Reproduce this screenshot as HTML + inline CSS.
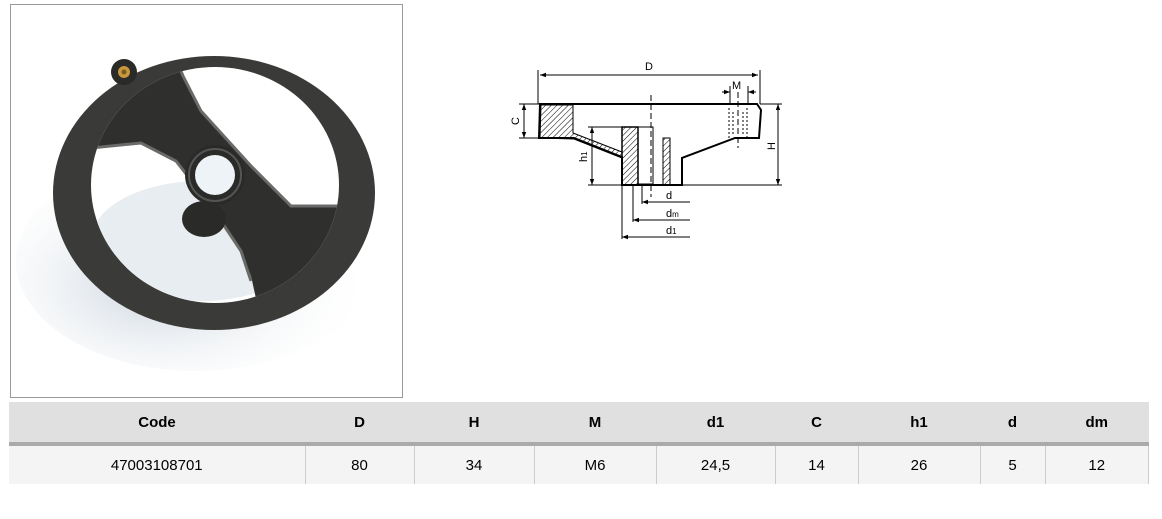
<!DOCTYPE html>
<html><head><meta charset="utf-8"><style>
body{margin:0;width:1162px;height:519px;background:#fff;font-family:"Liberation Sans",Arial,sans-serif;position:relative;overflow:hidden}
.photo{position:absolute;left:10px;top:4px;width:393px;height:394px;border:1px solid #999;box-sizing:border-box}
table{position:absolute;left:9px;top:402px;width:1140px;border-collapse:collapse;font-size:15px}
th{background:#e0e0e0;height:40px;font-weight:bold;border-bottom:4px solid #aaa;padding:0}
td{background:#f4f4f4;height:38px;text-align:center;border-right:1px solid #ccc;padding:0}
</style></head><body>
<div class="photo">
<svg width="393" height="394" viewBox="10 4 393 394">
<defs><radialGradient id="sh" cx="0.4" cy="0.6" r="0.6"><stop offset="0" stop-color="#c8d2dc"/><stop offset="1" stop-color="#fff" stop-opacity="0"/></radialGradient>
<clipPath id="in"><ellipse cx="214" cy="184" rx="124" ry="118"/></clipPath></defs>
<ellipse cx="195" cy="260" rx="180" ry="110" fill="url(#sh)"/>
<ellipse cx="213" cy="192" rx="161" ry="137" fill="#3a3a38"/>
<ellipse cx="214" cy="184" rx="124" ry="118" fill="#fff"/>
<g clip-path="url(#in)">
<ellipse cx="200" cy="240" rx="110" ry="60" fill="#e8edf1"/>
<polygon points="60,60 175,55 182,75 200,110 250,165 290,205 345,205 345,320 260,320 250,275 240,250 210,205 175,160 140,142 60,150" fill="#2f2f2d"/>
<polyline points="175,58 182,75 200,110 250,165 290,205 340,205" fill="none" stroke="#6a6a68" stroke-width="3"/>
<polyline points="60,150 140,142 175,160 210,205 240,250 250,280" fill="none" stroke="#6a6a68" stroke-width="3"/>
</g>
<ellipse cx="203" cy="218" rx="22" ry="18" fill="#2a2a28"/>
<circle cx="214" cy="174" r="30" fill="#2a2a28"/>
<circle cx="214" cy="174" r="26" fill="none" stroke="#555" stroke-width="2"/>
<circle cx="214" cy="174" r="20" fill="#eef3f7"/>
<circle cx="123" cy="71" r="13" fill="#2a2a28"/>
<circle cx="123" cy="71" r="6" fill="#c9973c"/>
<circle cx="123" cy="71" r="2.5" fill="#7a5a20"/>
</svg>
</div>
<svg width="1162" height="260" style="position:absolute;left:0;top:0" font-family="Liberation Sans,Arial,sans-serif" font-size="11">
<defs>
<pattern id="h" width="4" height="4" patternUnits="userSpaceOnUse" patternTransform="rotate(45)"><line x1="0" y1="0" x2="0" y2="4" stroke="#000" stroke-width="1"/></pattern>
<marker id="a" markerWidth="6" markerHeight="6" refX="6" refY="3" orient="auto-start-reverse"><path d="M0,0.8 L6,3 L0,5.2" fill="#000"/></marker>
</defs>
<g stroke="#000" fill="none" stroke-width="1">
<line x1="538" y1="70" x2="538" y2="104"/><line x1="760" y1="70" x2="760" y2="104"/>
<line x1="540" y1="75" x2="758" y2="75" marker-start="url(#a)" marker-end="url(#a)"/>
<path d="M540,104 L757,104 L761,110 L759,138 L735,138 L682,158 L682,185 L622,185 L622,157 L574,138 L539,138 Z" stroke-width="2"/>
<path d="M541,105 L573,105 L573,133 L622,152 L622,158 L574,139 L540,138 Z" fill="url(#h)"/>
<path d="M622,127 L638,127 L638,185 L622,185 Z" fill="url(#h)" stroke-width="1.5"/>
<path d="M663,138 L670,138 L670,185 L663,185 Z" fill="url(#h)"/>
<path d="M638,127 L653,127 L653,184 L638,184" />
<line x1="524" y1="104" x2="524" y2="138" marker-start="url(#a)" marker-end="url(#a)"/>
<line x1="519" y1="104" x2="540" y2="104"/><line x1="519" y1="138" x2="540" y2="138"/>
<line x1="592" y1="127" x2="592" y2="185" marker-start="url(#a)" marker-end="url(#a)"/>
<line x1="588" y1="127" x2="622" y2="127"/><line x1="588" y1="185" x2="622" y2="185"/>
<line x1="778" y1="104" x2="778" y2="185" marker-start="url(#a)" marker-end="url(#a)"/>
<line x1="760" y1="104" x2="782" y2="104"/><line x1="682" y1="185" x2="782" y2="185"/>
<line x1="651" y1="95" x2="651" y2="197" stroke-dasharray="6,3"/>
<line x1="738" y1="92" x2="738" y2="148" stroke-dasharray="6,3"/>
<path d="M729,108 L729,138 M747,108 L747,138 M733,112 L733,134 M743,112 L743,134" stroke-dasharray="2,2"/>
<line x1="730" y1="86" x2="730" y2="104"/><line x1="748" y1="86" x2="748" y2="104"/>
<line x1="722" y1="92" x2="730" y2="92" marker-end="url(#a)"/><line x1="756" y1="92" x2="748" y2="92" marker-end="url(#a)"/>
<line x1="642" y1="185" x2="642" y2="204"/><line x1="633" y1="185" x2="633" y2="222"/><line x1="622" y1="185" x2="622" y2="239"/>
<line x1="690" y1="202" x2="642" y2="202" marker-end="url(#a)"/>
<line x1="690" y1="220" x2="633" y2="220" marker-end="url(#a)"/>
<line x1="690" y1="237" x2="622" y2="237" marker-end="url(#a)"/>
</g>
<text x="645" y="70">D</text>
<text x="732" y="89">M</text>
<text x="666" y="199">d</text>
<text x="666" y="217">d<tspan font-size="8">m</tspan></text>
<text x="666" y="234">d<tspan font-size="8">1</tspan></text>
<text transform="translate(519,125) rotate(-90)">C</text>
<text transform="translate(587,162) rotate(-90)">h<tspan font-size="8">1</tspan></text>
<text transform="translate(775,150) rotate(-90)">H</text>
</svg>
<table>
<tr><th style="width:296px">Code</th><th style="width:109px">D</th><th style="width:120px">H</th><th style="width:122px">M</th><th style="width:119px">d1</th><th style="width:83px">C</th><th style="width:122px">h1</th><th style="width:65px">d</th><th>dm</th></tr>
<tr><td>47003108701</td><td>80</td><td>34</td><td>M6</td><td>24,5</td><td>14</td><td>26</td><td>5</td><td>12</td></tr>
</table>
</body></html>
